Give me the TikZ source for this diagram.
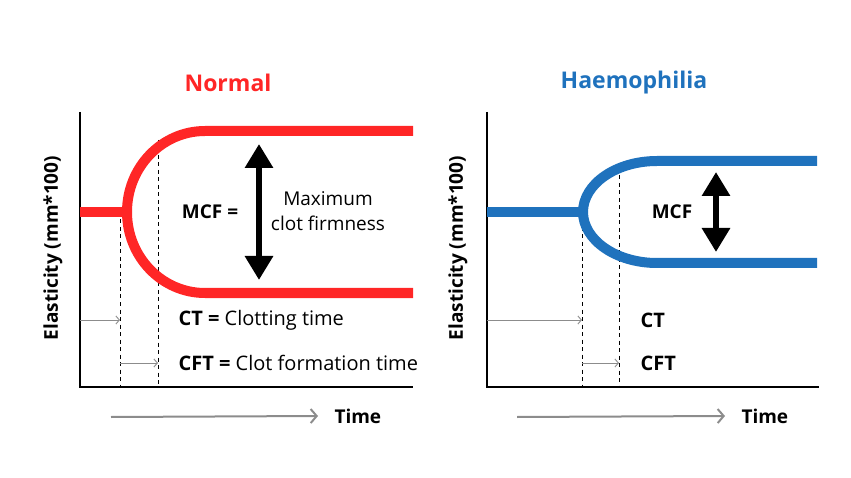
\documentclass[tikz,border=0pt]{standalone}
\usepackage{fontspec}
\setmainfont{Open Sans}
\usetikzlibrary{arrows.meta,positioning,calc}
\definecolor{normred}{RGB}{255,38,38}
\definecolor{haemblue}{RGB}{31,114,189}
\definecolor{timegray}{RGB}{140,140,140}
\tikzset{
  curve/.style={line width=10pt},
  axis/.style={line width=2pt},
  guide/.style={dash pattern=on 4pt off 3.5pt, line width=0.9pt},
  timing/.style={-{Straight Barb[length=3.5pt,width=8pt]}, draw=timegray, line width=0.9pt},
  timeaxis/.style={-{Straight Barb[length=6pt,width=14pt]}, draw=timegray, line width=2pt},
  mcf/.style={{Triangle[length=24pt,width=27pt]}-{Triangle[length=24pt,width=27pt]}, line width=6pt},
  title/.style={font=\fontsize{23}{28}\selectfont\bfseries},
  lbl/.style={font=\fontsize{19}{25}\selectfont},
  blbl/.style={font=\fontsize{19}{25}\selectfont\bfseries},
  deflbl/.style={font=\fontsize{20}{25}\selectfont},
}
\begin{document}
\begin{tikzpicture}[x=1pt,y=-1pt]
    \useasboundingbox (0,0) rectangle (851,478);
    % Normal
    \node[title, text=normred] (ntitle) at (228,83) {Normal};
    \coordinate (nY) at (80,112);
    \coordinate (nO) at (80,387);
    \coordinate (nX) at (413,387);
    \draw[axis] (nY) -- (nO) -- (nX);
    \node[blbl, rotate=90] (nylab) at (53,248) {Elasticity (mm*100)};
    \coordinate (nct) at (120,387);
    \coordinate (ncft) at (158,387);
    \draw[guide] (120,212) -- (nct);
    \draw[guide] (158,140) -- (ncft);
    \draw[curve, normred] (nY |- 0,212) -- (127,212);
    \draw[curve, normred] (413,131) -- (205,131) .. controls (162,131) and (127,167) .. (127,212)
        .. controls (127,257) and (162,293) .. (205,293) -- (413,293);
    \draw[mcf] (259,144) -- (259,280);
    \node[blbl] (nmcf) at (210,212) {MCF =};
    \node[lbl, align=center] (nmax) at (328,211) {Maximum\\clot firmness};
    \draw[timing] (nO |- 0,320) -- (nct |- 0,320);
    \draw[timing] (nct |- 0,363) -- (ncft |- 0,363);
    \node[deflbl, anchor=west] (nctlab) at (175,320) {\bfseries CT =\mdseries{} Clotting time};
    \node[deflbl, anchor=west] (ncftlab) at (175,363) {\bfseries CFT =\mdseries{} Clot formation time};
    \node[blbl, anchor=west] (ntime) at (331,416) {Time};
    \draw[timeaxis] (111,417) -- ([xshift=-13pt]ntime.west);
    % Haemophilia
    \node[title, text=haemblue] (htitle) at (634,83) {Haemophilia};
    \coordinate (hY) at (487,112);
    \coordinate (hO) at (487,387);
    \coordinate (hX) at (819,387);
    \draw[axis] (hY) -- (hO) -- (hX);
    \node[blbl, rotate=90] (hylab) at (458,248) {Elasticity (mm*100)};
    \coordinate (hct) at (582,387);
    \coordinate (hcft) at (619,387);
    \draw[guide] (582,212) -- (hct);
    \draw[guide] (619,168) -- (hcft);
    \draw[curve, haemblue] (hY |- 0,212) -- (583,212);
    \draw[curve, haemblue] (817,161) -- (657,161) .. controls (616,161) and (583,184) .. (583,212)
        .. controls (583,240) and (616,263) .. (657,263) -- (817,263);
    \draw[mcf] (716,172) -- (716,252);
    \node[blbl] (hmcf) at (672,212) {MCF};
    \draw[timing] (hO |- 0,320) -- (hct |- 0,320);
    \draw[timing] (hct |- 0,363) -- (hcft |- 0,363);
    \node[deflbl, anchor=west] (hctlab) at (637,320) {\bfseries CT};
    \node[deflbl, anchor=west] (hcftlab) at (637,363) {\bfseries CFT};
    \node[blbl, anchor=west] (htime) at (738,416) {Time};
    \draw[timeaxis] (517,417) -- ([xshift=-13pt]htime.west);
\end{tikzpicture}
\end{document}
